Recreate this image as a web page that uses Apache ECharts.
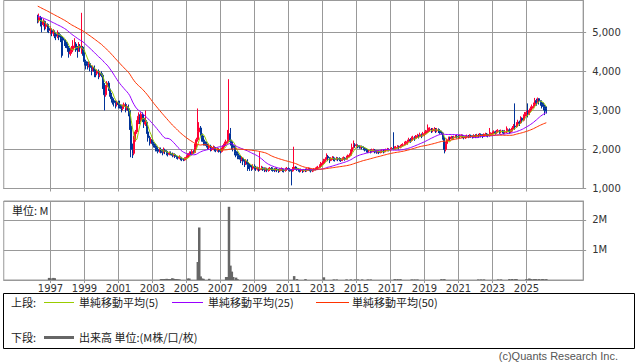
<!DOCTYPE html>
<html><head><meta charset="utf-8">
<script src="https://cdn.jsdelivr.net/npm/echarts@6/dist/echarts.min.js"></script>
<style>html,body{margin:0;padding:0;background:#fff}#c{width:638px;height:362px}</style>
</head><body><div id="c"></div>
<script>
// Monthly closes before the visible window (May 1992 - Mar 1996), used only for the moving averages
const preCloses = [
 6250,6200,6150,6180,6100,6050,6080,6000,5980,6020,5950,5900,5920,5880,5850,5900,5820,5800,5780,5820,5750,5720,5700,5680,5650,
 5650,5620,5600,5580,5550,5520,5500,5480,5450,5460,5420,5400,5380,5400,5350,5320,5350,5300,5320,5280,5300,5250,5280,5300
];
// Visible monthly candles: Apr 1996 - Mar 2026
const closes = [
 5300,5380,5250,5200,5280,5150,5200,5100,5050,
 5050,4980,5000,4950,4900,4970,4920,4880,4850,4800,4750,4700,
 4600,4450,4500,4550,4650,4700,4620,4550,4650,4600,4620,4500,
 4250,4200,4150,4200,4100,4050,4100,4000,3950,4000,3900,3950,
 3900,3650,3400,3600,3700,3550,3400,3300,3250,3200,3150,3200,
 3150,3100,3050,3100,3150,3050,3100,3000,2600,2000,1900,2250,
 2450,2700,2850,2750,2900,2800,2650,2700,2450,2300,2200,2250,
 2150,2100,2050,2000,1950,2000,1950,1920,1980,1950,1900,1880,
 1900,1880,1850,1870,1820,1800,1780,1800,1760,1750,1730,1760,
 1800,1850,1900,1880,1950,1920,2050,2250,2450,2550,2400,2300,
 2200,2150,2100,2050,2080,2000,2020,2050,2000,1980,2000,1970,
 1950,2000,2100,2150,2200,2250,2400,2200,2100,2050,1950,1900,
 1850,1800,1750,1780,1700,1650,1700,1620,1600,1550,1520,1560,
 1550,1500,1520,1480,1500,1530,1510,1480,1500,1470,1490,1510,
 1500,1480,1460,1500,1470,1450,1480,1500,1470,1460,1490,1510,
 1490,1470,1450,1500,1550,1520,1500,1480,1460,1470,1450,1470,
 1460,1480,1500,1480,1450,1470,1480,1500,1520,1540,1580,1630,
 1650,1700,1750,1820,1780,1720,1750,1780,1760,1740,1770,1760,
 1750,1720,1760,1780,1750,1800,1830,1850,1950,2050,2120,2100,
 2100,2080,2060,2070,2050,2030,2000,1980,1960,1970,1950,1980,
 1980,1950,1930,1950,1920,1940,1960,1950,1970,1980,2000,1990,
 2000,2020,2010,2030,2050,2070,2050,2080,2100,2120,2150,2170,
 2200,2250,2230,2280,2300,2280,2320,2350,2330,2380,2350,2400,
 2400,2450,2480,2500,2520,2480,2500,2520,2480,2500,2480,2450,
 2420,2300,2000,2150,2250,2300,2280,2320,2300,2320,2340,2330,
 2320,2340,2350,2330,2300,2320,2340,2330,2350,2340,2320,2350,
 2340,2360,2350,2380,2360,2340,2370,2390,2380,2360,2380,2400,
 2420,2450,2430,2460,2480,2450,2470,2460,2440,2450,2480,2500,
 2450,2480,2550,2600,2580,2650,2700,2680,2800,2750,2850,2900,
 2950,2900,3000,3050,3100,3150,3250,3200,3300,3250,3200,3150,
 3100,3050,2980
];
const highs = [
 5450,5480,5420,5300,5350,5300,5250,5230,5150,
 5150,5100,5080,5050,5000,5050,5000,4950,4920,4880,4820,4800,
 4750,4650,4600,4650,4800,4850,4750,4650,4750,4700,5500,4650,
 4550,4300,4250,4250,4250,4150,4150,4150,4050,4050,4050,4000,
 4000,3950,3700,3650,3750,3750,3600,3450,3350,3300,3250,3250,
 3250,3250,3150,3150,3200,3200,3150,3150,3050,2700,2150,2350,
 2500,2750,2950,2900,2950,2950,2850,3000,2750,2500,2350,2300,
 2300,2200,2150,2100,2050,2050,2050,2000,2050,2020,1980,1950,
 1950,1950,1920,1900,1900,1850,1830,1850,1820,1800,1780,1800,
 1850,1900,1950,1950,2000,1980,2150,2300,3050,2700,2600,2450,
 2350,2250,2200,2150,2150,2120,2080,2100,2080,2050,2050,2030,
 2020,2050,2150,2200,2250,2500,3800,2550,2250,2150,2100,2000,
 1950,1900,1850,1820,1800,1750,1750,1750,1680,1650,1600,1620,
 1620,1580,1560,1540,1930,1580,1560,1540,1540,1530,1530,1550,
 1550,1540,1520,1540,1530,1500,1520,1540,1520,1500,1530,1550,
 1540,1520,1500,1550,2070,1570,1540,1520,1500,1510,1490,1500,
 1510,1520,1540,1530,1500,1500,1520,1540,1560,1580,1620,1680,
 1700,1760,1800,1900,1860,1800,1800,1830,1820,1790,1810,1800,
 1800,1780,1800,1820,1800,1840,1870,1900,2000,2150,2230,2160,
 2150,2130,2110,2100,2100,2080,2060,2030,2010,2010,2000,2020,
 2020,2010,1980,1980,1970,1980,2000,2000,2010,2020,2040,2030,
 2040,2060,2440,2080,2090,2110,2100,2120,2140,2160,2200,2220,
 2250,2300,2290,2330,2350,2340,2370,2400,2380,2430,2410,2450,
 2460,2500,2640,2560,2570,2550,2550,2570,2550,2550,2540,2520,
 2480,2450,2320,2200,2280,2330,2330,2350,2340,2350,2370,2370,
 2370,2380,2390,2380,2350,2360,2380,2370,2390,2380,2360,2390,
 2390,2400,2400,2420,2410,2390,2410,2430,2420,2400,2550,2440,
 2460,2490,2480,2500,2520,2500,2510,2500,2490,2500,2590,2540,
 2540,2520,2600,2650,3180,2700,2760,2740,2850,2820,2900,2960,
 3000,3180,3050,3100,3150,3200,3320,3300,3330,3300,3260,3220,
 3200,3150,3100
];
const lows = [
 5230,5250,5150,5000,5150,5050,5080,5000,4980,
 4950,4900,4900,4850,4800,4850,4800,4750,4350,4400,4650,4600,
 4500,4350,4400,4450,4500,4600,4500,4350,4500,4500,4450,4400,
 4150,4050,4050,4100,4000,3900,4000,3850,3850,3900,3800,3850,
 3850,3550,3000,3350,3550,3500,3350,3200,3150,3100,3050,3100,
 3050,3050,2950,3000,3050,2950,3000,2850,2500,1800,1780,1850,
 2200,2400,2650,2650,2700,2700,2550,2600,2400,2200,2100,2150,
 2100,2050,1950,1950,1900,1920,1900,1850,1900,1880,1850,1820,
 1850,1850,1800,1820,1780,1760,1740,1750,1720,1700,1700,1710,
 1750,1780,1820,1850,1850,1880,1900,2000,2200,2350,2350,2200,
 2100,2100,2050,2000,2000,1950,1960,1980,1950,1930,1940,1920,
 1900,1920,1980,2050,2100,2150,2200,2100,2000,1950,1850,1800,
 1750,1750,1650,1700,1600,1550,1600,1450,1500,1450,1450,1480,
 1480,1450,1460,1430,1450,1470,1450,1420,1440,1420,1430,1450,
 1450,1430,1420,1440,1420,1400,1420,1450,1420,1410,1430,1460,
 1450,1430,1080,1430,1480,1480,1450,1430,1410,1420,1400,1420,
 1420,1430,1450,1440,1410,1420,1440,1460,1480,1500,1530,1570,
 1600,1620,1680,1720,1700,1650,1700,1730,1700,1690,1720,1700,
 1700,1680,1700,1730,1710,1740,1780,1800,1830,1940,2020,2050,
 2050,2030,2020,2020,2000,1980,1950,1920,1910,1920,1900,1920,
 1930,1900,1890,1900,1880,1900,1910,1900,1920,1930,1950,1950,
 1950,1980,1980,1990,2000,2020,2000,2030,2050,2080,2100,2120,
 2120,2180,2170,2200,2240,2220,2260,2300,2280,2320,2290,2330,
 2340,2380,2420,2440,2460,2420,2440,2460,2420,2440,2420,2400,
 2380,2250,1900,1950,2100,2220,2230,2260,2250,2270,2290,2280,
 2280,2290,2300,2290,2260,2270,2290,2290,2300,2300,2280,2290,
 2290,2310,2300,2330,2310,2290,2320,2340,2330,2310,2330,2350,
 2360,2390,2380,2400,2420,2400,2410,2410,2390,2400,2420,2440,
 2400,2420,2460,2520,2500,2560,2620,2600,2660,2680,2720,2800,
 2850,2820,2880,2950,3000,3060,3120,3120,3200,3150,3120,3050,
 3000,2880,2920
];
// Monthly volume, millions
const volumes = [
 0,0,0,0,0,0,0,0,0.07,
 0.06,0,0.07,0.06,0,0,0,0,0,0,0,0,
 0,0,0,0,0,0,0,0,0,0,0,0,
 0,0,0,0,0,0,0,0,0,0,0,0,
 0,0,0,0,0,0,0,0,0,0,0,0,
 0,0,0,0,0,0,0,0,0,0,0,0,
 0,0,0,0,0,0,0,0,0,0,0,0,
 0,0,0,0,0,0,0.03,0.03,0.03,0.03,0.04,0.03,
 0.03,0.03,0.06,0.04,0.03,0.03,0.02,0.02,0,0,0,0,
 0,0.05,0.05,0,0,0,0,0,0.6,1.75,0.12,0.05,
 0.04,0,0,0,0.04,0,0,0,0,0,0,0,
 0,0,0,0,0.1,0.1,2.44,0.48,0.28,0.1,0,0.08,
 0.03,0,0,0,0,0,0,0,0,0,0,0,
 0,0,0,0,0,0,0,0,0,0,0,0,
 0,0,0,0,0,0,0,0,0,0,0,0,
 0,0,0,0,0.13,0,0.03,0,0,0,0,0,
 0.03,0,0,0,0,0,0,0,0,0,0,0,
 0,0.09,0,0,0,0,0,0,0.02,0,0.02,0,
 0,0,0,0,0,0.02,0,0,0.02,0,0,0.02,
 0,0.02,0,0,0.02,0,0,0,0.02,0,0.02,0,
 0,0,0,0,0,0,0,0,0,0,0,0,
 0,0,0,0.03,0,0.03,0,0.03,0,0,0,0,
 0,0,0,0.02,0,0.02,0,0.02,0,0,0,0,
 0,0,0,0,0,0,0,0,0,0,0,0,
 0.03,0,0.03,0,0,0,0,0,0,0,0,0,
 0,0,0,0,0,0,0,0,0,0,0,0,
 0,0,0.02,0,0.02,0,0.02,0,0,0,0,0,
 0,0,0,0,0.02,0,0.02,0,0,0,0,0,
 0.03,0,0.03,0,0.03,0.03,0,0,0,0,0,0,
 0.03,0,0.05,0.03,0,0.03,0.03,0.03,0,0.03,0,0.03,
 0.03,0,0.03
];
const labelYears = [1997,1999,2001,2003,2005,2007,2009,2011,2013,2015,2017,2019,2021,2023,2025];
const priceTicks = [1000,2000,3000,4000,5000];
const maPeriods = [5,25,50];
const maColors = ['#99cc00','#9900ff','#ff3300'];
const legendNames = ['単純移動平均(5)','単純移動平均(25)','単純移動平均(50)'];

// category axis: Apr 1994 .. May 2028 (visible data starts at Apr 1996)
const N = 410, first = 24;
const cats = [];
for (let i = 0; i < N; i++) { const m = 3 + i; cats.push((1994 + Math.floor(m / 12)) + '-' + String(m % 12 + 1).padStart(2, '0')); }
const isTick = (idx, val) => { const v = cats[idx] || val; return v.endsWith('-01') && labelYears.indexOf(+v.slice(0, 4)) >= 0; };

const candle = new Array(N).fill('-');
const vol = new Array(N).fill('-');
for (let v = 0; v < closes.length; v++) {
  const open = v === 0 ? preCloses[preCloses.length - 1] : closes[v - 1];
  candle[first + v] = [open, closes[v], lows[v], highs[v]];
  vol[first + v] = volumes[v];
}
const full = preCloses.concat(closes);
function ma(n) {
  const out = new Array(N).fill('-');
  for (let v = 0; v < closes.length; v++) {
    const end = v + preCloses.length; let s = 0;
    for (let k = end - n + 1; k <= end; k++) s += full[k];
    out[first + v] = +(s / n).toFixed(1);
  }
  return out;
}

const gridLeft = 3.75, gridWidth = 579.4;
const grey = '#999';
const numFont = 'DejaVu Sans', jpFont = 'Noto Sans CJK JP';

const xBase = (gi, showLabel) => ({
  type: 'category', gridIndex: gi, data: cats, boundaryGap: false,
  axisLine: { show: true, lineStyle: { color: grey } },
  axisTick: { show: true, interval: isTick, length: 3, lineStyle: { color: grey } },
  axisLabel: { show: showLabel, interval: isTick, formatter: v => v.slice(0, 4), fontFamily: numFont, fontSize: 10, color: '#333', margin: 3 },
  splitLine: { show: true, interval: isTick, lineStyle: { color: grey, width: 1 } }
});

const option = {
  animation: false,
  backgroundColor: '#fff',
  grid: [
    { left: gridLeft, width: gridWidth, top: 0.5, height: 188, show: true, borderColor: grey, borderWidth: 1 },
    { left: gridLeft, width: gridWidth, top: 201, height: 79, show: true, borderColor: grey, borderWidth: 1 }
  ],
  xAxis: [xBase(0, false), xBase(1, true)],
  yAxis: [
    { type: 'value', gridIndex: 0, position: 'right', min: 1000, max: 5815, interval: 1000,
      axisLine: { show: true, lineStyle: { color: grey } },
      axisTick: { show: true, length: 3, lineStyle: { color: grey } },
      axisLabel: { showMaxLabel: false, margin: 9, fontFamily: numFont, fontSize: 10, color: '#333',
        formatter: v => priceTicks.indexOf(v) >= 0 ? v.toLocaleString('en-US') : '' },
      splitLine: { show: true, lineStyle: { color: grey } } },
    { type: 'value', gridIndex: 1, position: 'right', min: 0, max: 2.633, interval: 1,
      axisLine: { show: true, lineStyle: { color: grey } },
      axisTick: { show: true, length: 3, lineStyle: { color: grey } },
      axisLabel: { showMinLabel: false, showMaxLabel: false, margin: 9, fontFamily: numFont, fontSize: 10, color: '#333',
        formatter: v => v > 0 ? v + 'M' : '' },
      splitLine: { show: true, lineStyle: { color: grey } } }
  ],
  series: [
    { type: 'candlestick', xAxisIndex: 0, yAxisIndex: 0, data: candle, barWidth: 1.5,
      itemStyle: { color: '#ff0033', color0: '#003399', borderColor: '#ff0033', borderColor0: '#003399', borderWidth: 1 } },
    ...maPeriods.map((p, i) => ({ type: 'line', name: legendNames[i], xAxisIndex: 0, yAxisIndex: 0, data: ma(p),
      symbol: 'none', lineStyle: { color: maColors[i], width: 1 }, z: 3 })),
    { type: 'bar', xAxisIndex: 1, yAxisIndex: 1, data: vol, barWidth: 2.5, itemStyle: { color: '#666' } }
  ],
  graphic: [
    { type: 'text', x: 12, y: 210, style: { text: '単位: M', fontFamily: jpFont, fontSize: 11, fill: '#222', verticalAlign: 'middle' } },
    { type: 'rect', shape: { x: 3.5, y: 293.5, width: 631, height: 55 }, style: { fill: '#fff', stroke: '#000', lineWidth: 1 } },
    { type: 'text', x: 11, y: 302, style: { text: '上段:', fontFamily: jpFont, fontSize: 11, fill: '#222', verticalAlign: 'middle' } },
    { type: 'line', shape: { x1: 44, y1: 302.5, x2: 74, y2: 302.5 }, style: { stroke: maColors[0], lineWidth: 1 } },
    { type: 'text', x: 79, y: 302, style: { text: legendNames[0], fontFamily: jpFont, fontSize: 11, fill: '#222', verticalAlign: 'middle' } },
    { type: 'line', shape: { x1: 172, y1: 302.5, x2: 203, y2: 302.5 }, style: { stroke: maColors[1], lineWidth: 1 } },
    { type: 'text', x: 208, y: 302, style: { text: legendNames[1], fontFamily: jpFont, fontSize: 11, fill: '#222', verticalAlign: 'middle' } },
    { type: 'line', shape: { x1: 316, y1: 302.5, x2: 349, y2: 302.5 }, style: { stroke: maColors[2], lineWidth: 1 } },
    { type: 'text', x: 352, y: 302, style: { text: legendNames[2], fontFamily: jpFont, fontSize: 11, fill: '#222', verticalAlign: 'middle' } },
    { type: 'text', x: 11, y: 337, style: { text: '下段:', fontFamily: jpFont, fontSize: 11, fill: '#222', verticalAlign: 'middle' } },
    { type: 'line', shape: { x1: 44, y1: 337.5, x2: 74, y2: 337.5 }, style: { stroke: '#666', lineWidth: 3 } },
    { type: 'text', x: 79, y: 337, style: { text: '出来高 単位:(M株/口/枚)', fontFamily: jpFont, fontSize: 11, fill: '#222', verticalAlign: 'middle' } },
    { type: 'text', x: 618, y: 356, style: { text: '(c)Quants Research Inc.', fontFamily: 'Liberation Sans', fontSize: 11, fill: '#555', align: 'right', verticalAlign: 'middle' } }
  ]
};
const chart = echarts.init(document.getElementById('c'), null, { renderer: 'svg', width: 638, height: 362 });
chart.setOption(option);
</script>
</body></html>
